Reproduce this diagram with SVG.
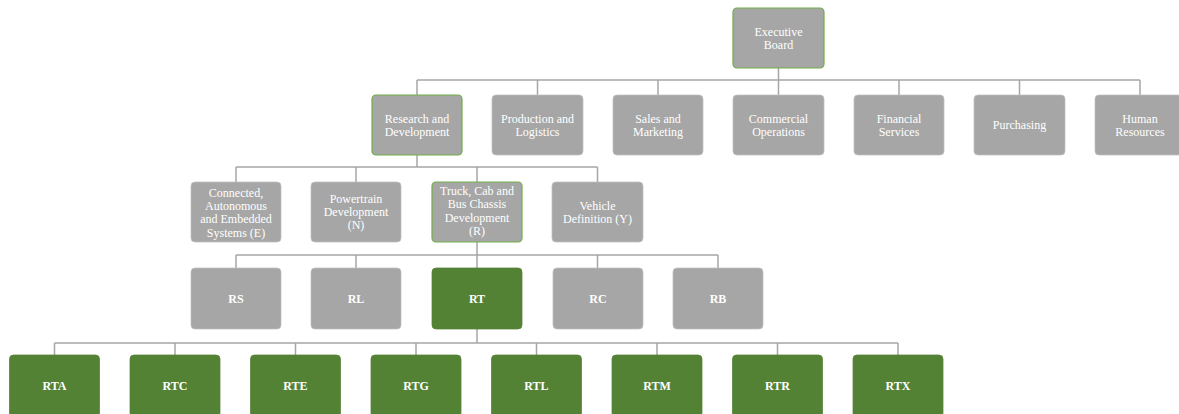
<svg xmlns="http://www.w3.org/2000/svg" width="1179" height="414" viewBox="0 0 1179 414">
  <style>
    .box { fill: #A6A6A6; stroke: #BFBFBF; stroke-width: 0.75; }
    .sel { stroke: #70AD47; stroke-width: 1.2; }
    .grn { fill: #548235; stroke: #548235; stroke-width: 0.75; }
    text { font-family: "Liberation Serif", "DejaVu Serif", "Noto Serif", serif; font-size: 12px; fill: #FFFFFF; text-anchor: middle; }
    .code { font-weight: bold; }
    .wire { fill: none; stroke: #A6A6A6; stroke-width: 1.5; }
  </style>

  <!-- connectors -->
  <g id="connectors" class="wire">
    <path d="M778.5 68 V80 M417 80 H1140 M417 80 V95 M537.5 80 V95 M658 80 V95 M778.5 80 V95 M899 80 V95 M1019.5 80 V95 M1140 80 V95"/>
    <path d="M417 155 V167 M236 167 H597.5 M236 167 V182 M356 167 V182 M477 167 V182 M597.5 167 V182"/>
    <path d="M477 242 V255 M236 255 H718 M236 255 V268 M356 255 V268 M477 255 V268 M597.5 255 V268 M718 255 V268"/>
    <path d="M477 329 V343 M54.5 343 H898 M54.5 343 V355 M175 343 V355 M295.5 343 V355 M416 343 V355 M536.5 343 V355 M657 343 V355 M777.5 343 V355 M898 343 V355"/>
  </g>

  <!-- level 1 -->
  <g id="executive-board">
    <rect class="box sel" x="733" y="8" width="91" height="60" rx="4"/>
    <text x="778.5" y="36" font-family="Liberation Serif, serif">Executive</text>
    <text x="778.5" y="49" font-family="Liberation Serif, serif">Board</text>
  </g>

  <!-- level 2 -->
  <g id="research-development">
    <rect class="box sel" x="372" y="95" width="90" height="60" rx="4"/>
    <text x="417" y="123">Research and</text>
    <text x="417" y="136">Development</text>
  </g>
  <g id="production-logistics">
    <rect class="box" x="492" y="95" width="91" height="60" rx="4"/>
    <text x="537.5" y="123">Production and</text>
    <text x="537.5" y="136">Logistics</text>
  </g>
  <g id="sales-marketing">
    <rect class="box" x="613" y="95" width="90" height="60" rx="4"/>
    <text x="658" y="123">Sales and</text>
    <text x="658" y="136">Marketing</text>
  </g>
  <g id="commercial-operations">
    <rect class="box" x="733" y="95" width="91" height="60" rx="4"/>
    <text x="778.5" y="123">Commercial</text>
    <text x="778.5" y="136">Operations</text>
  </g>
  <g id="financial-services">
    <rect class="box" x="854" y="95" width="90" height="60" rx="4"/>
    <text x="899" y="123">Financial</text>
    <text x="899" y="136">Services</text>
  </g>
  <g id="purchasing">
    <rect class="box" x="974" y="95" width="91" height="60" rx="4"/>
    <text x="1019.5" y="129">Purchasing</text>
  </g>
  <g id="human-resources">
    <rect class="box" x="1095" y="95" width="90" height="60" rx="4"/>
    <text x="1140" y="123">Human</text>
    <text x="1140" y="136">Resources</text>
  </g>

  <!-- level 3 -->
  <g id="connected-autonomous">
    <rect class="box" x="191" y="182" width="90" height="60" rx="4"/>
    <text x="236" y="197">Connected,</text>
    <text x="236" y="210">Autonomous</text>
    <text x="236" y="223">and Embedded</text>
    <text x="236" y="237">Systems (E)</text>
  </g>
  <g id="powertrain">
    <rect class="box" x="311" y="182" width="90" height="60" rx="4"/>
    <text x="356" y="203">Powertrain</text>
    <text x="356" y="216">Development</text>
    <text x="356" y="229">(N)</text>
  </g>
  <g id="truck-cab-bus">
    <rect class="box sel" x="432" y="182" width="90" height="60" rx="4"/>
    <text x="477" y="195">Truck, Cab and</text>
    <text x="477" y="208">Bus Chassis</text>
    <text x="477" y="222">Development</text>
    <text x="477" y="235">(R)</text>
  </g>
  <g id="vehicle-definition">
    <rect class="box" x="552" y="182" width="91" height="60" rx="4"/>
    <text x="597.5" y="210">Vehicle</text>
    <text x="597.5" y="223">Definition (Y)</text>
  </g>

  <!-- level 4 -->
  <g id="rs">
    <rect class="box" x="191" y="268" width="90" height="61" rx="4"/>
    <text class="code" x="236" y="303">RS</text>
  </g>
  <g id="rl">
    <rect class="box" x="311" y="268" width="90" height="61" rx="4"/>
    <text class="code" x="356" y="303">RL</text>
  </g>
  <g id="rt">
    <rect class="grn" x="432" y="268" width="90" height="61" rx="4"/>
    <text class="code" x="477" y="303">RT</text>
  </g>
  <g id="rc">
    <rect class="box" x="553" y="268" width="90" height="61" rx="4"/>
    <text class="code" x="598" y="303">RC</text>
  </g>
  <g id="rb">
    <rect class="box" x="673" y="268" width="90" height="61" rx="4"/>
    <text class="code" x="718" y="303">RB</text>
  </g>

  <!-- level 5 -->
  <g id="rta">
    <rect class="grn" x="9.5" y="355" width="90" height="62" rx="4"/>
    <text class="code" x="54.5" y="390">RTA</text>
  </g>
  <g id="rtc">
    <rect class="grn" x="130" y="355" width="90" height="62" rx="4"/>
    <text class="code" x="175" y="390">RTC</text>
  </g>
  <g id="rte">
    <rect class="grn" x="250.5" y="355" width="90" height="62" rx="4"/>
    <text class="code" x="295.5" y="390">RTE</text>
  </g>
  <g id="rtg">
    <rect class="grn" x="371" y="355" width="90" height="62" rx="4"/>
    <text class="code" x="416" y="390">RTG</text>
  </g>
  <g id="rtl">
    <rect class="grn" x="491.5" y="355" width="90" height="62" rx="4"/>
    <text class="code" x="536.5" y="390">RTL</text>
  </g>
  <g id="rtm">
    <rect class="grn" x="612" y="355" width="90" height="62" rx="4"/>
    <text class="code" x="657" y="390">RTM</text>
  </g>
  <g id="rtr">
    <rect class="grn" x="732.5" y="355" width="90" height="62" rx="4"/>
    <text class="code" x="777.5" y="390">RTR</text>
  </g>
  <g id="rtx">
    <rect class="grn" x="853" y="355" width="90" height="62" rx="4"/>
    <text class="code" x="898" y="390">RTX</text>
  </g>
</svg>
